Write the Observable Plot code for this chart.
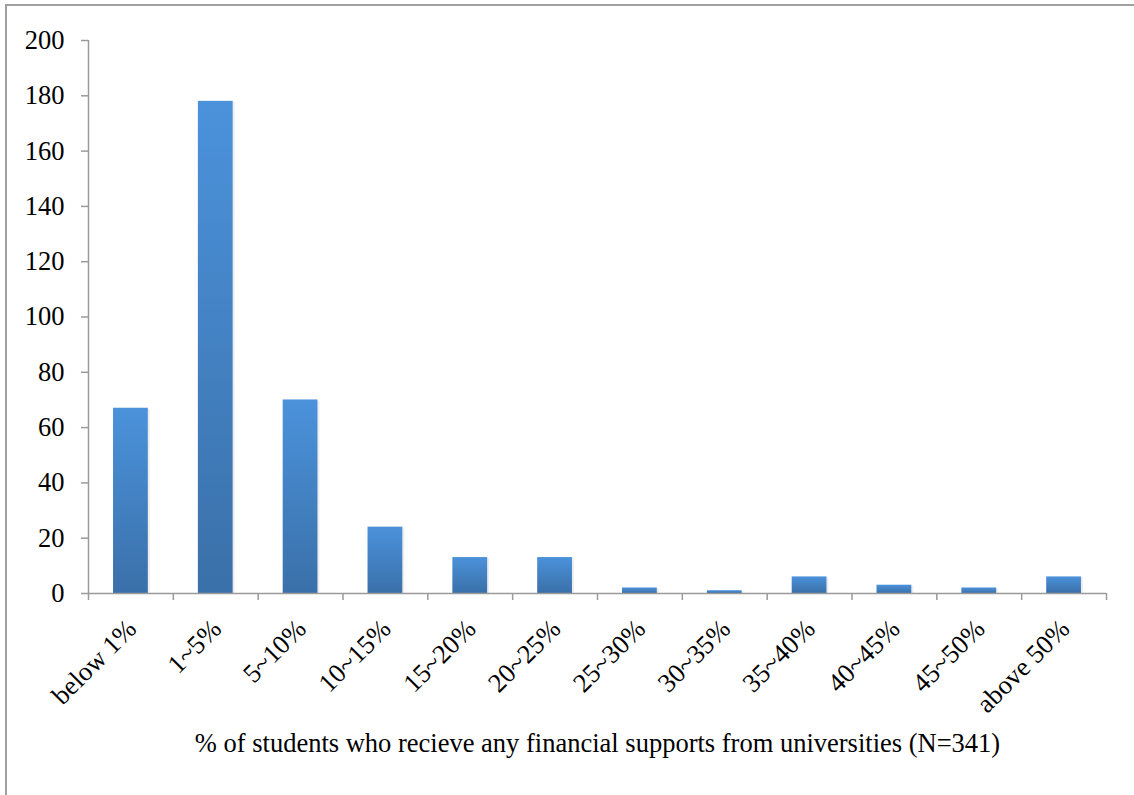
<!DOCTYPE html>
<html>
<head>
<meta charset="utf-8">
<script src="https://cdn.jsdelivr.net/npm/d3@7"></script>
<script src="https://cdn.jsdelivr.net/npm/@observablehq/plot@0.6"></script>
<style>
  html, body { margin: 0; padding: 0; background: #fff; overflow: hidden; }
  #wrap { position: relative; width: 1134px; height: 795px; overflow: hidden; }
  #frame { position: absolute; left: 5px; top: 4px; width: 1200px; height: 1000px; border: 2px solid #a0a0a0; box-sizing: border-box; }
  #chart { position: absolute; left: 0; top: 0; }
  #chart svg, #chart svg text { font-family: "Liberation Serif", "Times New Roman", serif !important; font-size: 26.5px !important; }
</style>
</head>
<body>
<div id="wrap"><div id="frame"></div><div id="chart"></div></div>
<script>
const categories = ["below 1%", "1~5%", "5~10%", "10~15%", "15~20%", "20~25%", "25~30%", "30~35%", "35~40%", "40~45%", "45~50%", "above 50%"];
const counts = [67, 178, 70, 24, 13, 13, 2, 1, 6, 3, 2, 6];
const yTicks = [0, 20, 40, 60, 80, 100, 120, 140, 160, 180, 200];
const xTitle = "% of students who recieve any financial supports from universities (N=341)";

const data = categories.map((c, i) => ({category: c, index: i, value: counts[i]}));
const boundaries = d3.range(0, categories.length + 1);

const defs = () => {
  const d = d3.create("svg:defs");
  const g = d.append("linearGradient").attr("id", "barGrad").attr("x1", 0).attr("y1", 0).attr("x2", 0).attr("y2", 1);
  g.append("stop").attr("offset", "0%").attr("stop-color", "#4b92db");
  g.append("stop").attr("offset", "100%").attr("stop-color", "#3a70a9");
  return d.node();
};

const chart = Plot.plot({
  width: 1134,
  height: 795,
  marginLeft: 88,
  marginRight: 28,
  marginTop: 40,
  marginBottom: 202,
  style: {fontFamily: "'Liberation Serif', 'Times New Roman', serif", fontSize: "26.5px", color: "#000", background: "transparent"},
  x: {type: "linear", domain: [0, categories.length]},
  y: {type: "linear", domain: [0, 200]},
  marks: [
    defs,
    // subtle shadow
    Plot.rectY(data, {x1: d => d.index + 0.295, x2: d => d.index + 0.705, y1: d => 0, y2: "value", fill: "#000", fillOpacity: 0.07, dx: 2, dy: 1}),
    Plot.rectY(data, {x1: d => d.index + 0.295, x2: d => d.index + 0.705, y1: d => 0, y2: "value", fill: "url(#barGrad)"}),
    Plot.axisY({ticks: yTicks, tickSize: 7, tickPadding: 17, stroke: "#9a9a9a", strokeWidth: 1.5, fontSize: 26.5, fill: "#000", label: null, tickFormat: d => String(d)}),
    Plot.axisX({ticks: boundaries, tickSize: 7, stroke: "#9a9a9a", strokeWidth: 1.5, tickFormat: () => "", label: null}),
    Plot.ruleX([0], {x: d => d, y1: d => 0, y2: d => 200, stroke: "#9a9a9a", strokeWidth: 1.5}),
    Plot.ruleY([0], {y: d => d, x1: d => 0, x2: d => categories.length, stroke: "#9a9a9a", strokeWidth: 1.5}),
    Plot.text(data, {x: d => d.index + 0.5, y: d => 0, text: "category", rotate: -45, textAnchor: "end", lineAnchor: "middle", dx: 1, dy: 31, fontSize: 26.5, fill: "#000"}),
    Plot.text([xTitle], {x: d => categories.length / 2, frameAnchor: "bottom", dy: 158, text: d => d, fontSize: 26.5, fill: "#000", textAnchor: "middle"})
  ]
});

document.getElementById("chart").appendChild(chart);
</script>
</body>
</html>
